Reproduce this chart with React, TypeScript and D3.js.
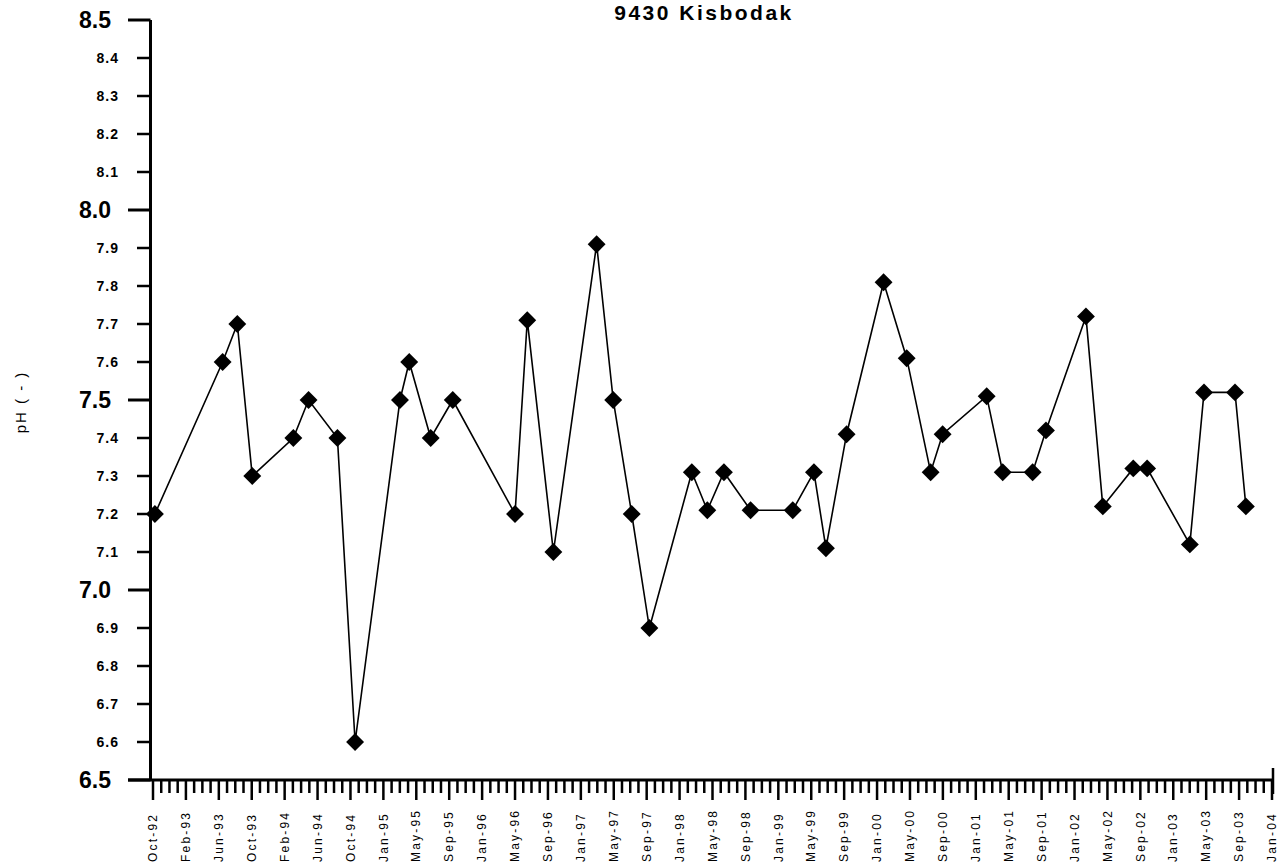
import React from "react";
import * as d3 from "d3";

// pH measurements, station 9430 Kisbodak
const sampleDates = [
  "1992-10-12", "1993-06-18", "1993-08-11", "1993-10-05", "1994-03-05",
  "1994-04-30", "1994-08-14", "1994-10-18", "1995-04-01", "1995-05-05",
  "1995-07-23", "1995-10-12", "1996-05-28", "1996-07-12", "1996-10-16",
  "1997-03-24", "1997-05-24", "1997-07-31", "1997-10-04", "1998-03-09",
  "1998-05-05", "1998-07-05", "1998-10-11", "1999-03-15", "1999-06-01",
  "1999-07-15", "1999-09-29", "2000-02-12", "2000-05-07", "2000-08-03",
  "2000-09-16", "2001-02-25", "2001-04-25", "2001-08-13", "2001-10-01",
  "2002-02-25", "2002-04-28", "2002-08-18", "2002-10-08", "2003-03-14",
  "2003-05-05", "2003-08-27", "2003-10-06",
];
const phValues = [
  7.2, 7.6, 7.7, 7.3, 7.4,
  7.5, 7.4, 6.6, 7.5, 7.6,
  7.4, 7.5, 7.2, 7.71, 7.1,
  7.91, 7.5, 7.2, 6.9, 7.31,
  7.21, 7.31, 7.21, 7.21, 7.31,
  7.11, 7.41, 7.81, 7.61, 7.31,
  7.41, 7.51, 7.31, 7.31, 7.42,
  7.72, 7.22, 7.32, 7.32, 7.12,
  7.52, 7.52, 7.22,
];

const xTickLabels = [
  "Oct-92", "Feb-93", "Jun-93", "Oct-93", "Feb-94", "Jun-94", "Oct-94",
  "Jan-95", "May-95", "Sep-95", "Jan-96", "May-96", "Sep-96", "Jan-97",
  "May-97", "Sep-97", "Jan-98", "May-98", "Sep-98", "Jan-99", "May-99",
  "Sep-99", "Jan-00", "May-00", "Sep-00", "Jan-01", "May-01", "Sep-01",
  "Jan-02", "May-02", "Sep-02", "Jan-03", "May-03", "Sep-03", "Jan-04",
];
const yTicks = [
  6.5, 6.6, 6.7, 6.8, 6.9, 7.0, 7.1, 7.2, 7.3, 7.4, 7.5,
  7.6, 7.7, 7.8, 7.9, 8.0, 8.1, 8.2, 8.3, 8.4, 8.5,
];
const majorY = [6.5, 7.0, 7.5, 8.0, 8.5];

const FONT = "'Liberation Sans', Arial, sans-serif";
const W = 1288;
const H = 868;
const axisStart = new Date(1992, 9, 5);
const dayStep = 121; // days between date labels

export default function App() {
  const parse = d3.timeParse("%Y-%m-%d");
  const data = sampleDates.map((d, i) => ({ date: parse(d) as Date, v: phValues[i] }));

  const axisEnd = d3.timeDay.offset(axisStart, dayStep * (xTickLabels.length - 1));
  const x = d3.scaleTime().domain([axisStart, axisEnd]).range([153, 1272]);
  const y = d3.scaleLinear().domain([6.5, 8.5]).range([780, 20]);

  const line = d3
    .line<{ date: Date; v: number }>()
    .x((d) => x(d.date))
    .y((d) => y(d.v));

  const diamond = d3.symbol().type(d3.symbolSquare).size(160)();

  const majorTicks = xTickLabels.map((lab, i) => ({
    lab,
    x: x(d3.timeDay.offset(axisStart, i * dayStep)),
  }));
  const minorTicks: number[] = [];
  for (let i = 0; i < xTickLabels.length - 1; i++) {
    for (let k = 1; k < 4; k++) {
      const t = new Date(axisStart.getTime() + (i * dayStep + (k * dayStep) / 4) * 864e5);
      minorTicks.push(x(t));
    }
  }

  const axisX = 150.5;

  return (
    <svg
      width={W}
      height={H}
      style={{ position: "absolute", left: 0, top: 0, background: "#fff" }}
      fontFamily={FONT}
    >
      <rect width={W} height={H} fill="#fff" />

      {/* title */}
      <text x={704} y={20} textAnchor="middle" fontSize={21} fontWeight="bold" letterSpacing={2.5}>
        9430 Kisbodak
      </text>

      {/* y label */}
      <text
        transform="translate(26,402) rotate(-90)"
        textAnchor="middle"
        fontSize={15}
        letterSpacing={2}
      >
        pH ( - )
      </text>

      {/* y axis */}
      <line x1={axisX} x2={axisX} y1={y(8.5)} y2={y(6.5)} stroke="#000" strokeWidth={3} />
      {yTicks.map((t) => {
        const major = majorY.some((m) => Math.abs(m - t) < 1e-6);
        const yy = y(t);
        return (
          <g key={t}>
            <line
              x1={major ? 128 : 137}
              x2={axisX}
              y1={yy}
              y2={yy}
              stroke="#000"
              strokeWidth={major ? 3 : 2.5}
            />
            <text
              x={major ? 111 : 119}
              y={yy}
              dy="0.35em"
              textAnchor="end"
              fontSize={major ? 23 : 14}
              fontWeight="bold"
              letterSpacing={major ? 0 : 1}
            >
              {d3.format(".1f")(t)}
            </text>
          </g>
        );
      })}

      {/* x axis */}
      <line x1={128} x2={1273} y1={780} y2={780} stroke="#000" strokeWidth={3} />
      {minorTicks.map((mx, i) => (
        <line key={"m" + i} x1={mx} x2={mx} y1={780} y2={793} stroke="#000" strokeWidth={2.5} />
      ))}
      {majorTicks.map((t) => (
        <g key={t.lab}>
          <line x1={t.x} x2={t.x} y1={780} y2={800} stroke="#000" strokeWidth={2.5} />
          <text
            transform={`translate(${t.x},862) rotate(-90)`}
            dy="0.35em"
            textAnchor="start"
            fontSize={12}
            letterSpacing={2.2}
          >
            {t.lab}
          </text>
        </g>
      ))}
      <line x1={1273} x2={1273} y1={768} y2={794} stroke="#000" strokeWidth={2.5} />

      {/* series */}
      <path d={line(data) ?? ""} fill="none" stroke="#000" strokeWidth={1.6} />
      {data.map((d, i) => (
        <path
          key={i}
          d={diamond ?? ""}
          transform={`translate(${x(d.date)},${y(d.v)}) rotate(45)`}
          fill="#000"
        />
      ))}
    </svg>
  );
}
